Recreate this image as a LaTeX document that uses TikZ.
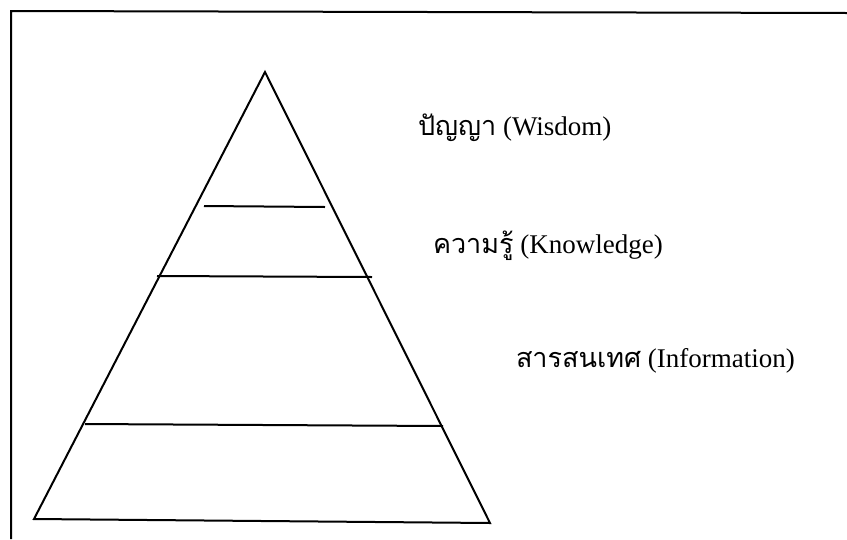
\documentclass[tikz,border=0pt]{standalone}
\usepackage{fontspec}
\setmainfont{Liberation Serif}
\newfontfamily\thaifont[Script=Thai]{Loma}
\usetikzlibrary{positioning}

\begin{document}
\begin{tikzpicture}[x=1pt,y=-1pt,line width=2pt,
  lvltext/.style={anchor=base west,inner sep=0pt,font=\fontsize{27}{32}\selectfont}]
 \useasboundingbox (0,0) rectangle (847,539);
 % frame (left and top edges only)
 \draw (11,539) -- (11,11) -- (847,13);
 % pyramid
 \coordinate (apex) at (265,72);
 \coordinate (bl) at (34,519);
 \coordinate (br) at (490,523);
 \draw[line join=miter] (bl) -- (apex) -- (br) -- cycle;
 % level lines
 \draw (204,206) -- (325,207);
 \draw (157,276) -- (372,277);
 \draw (85,424) -- (443,426);
 % labels
 \node[lvltext] (wisdom) at (417,135) {{\thaifont ปัญญา} (Wisdom)};
 \node[lvltext] (knowledge) at (432,253) {{\thaifont ความรู้} (Knowledge)};
 \node[lvltext] (information) at (515,367) {{\thaifont สารสนเทศ} (Information)};
\end{tikzpicture}
\end{document}
